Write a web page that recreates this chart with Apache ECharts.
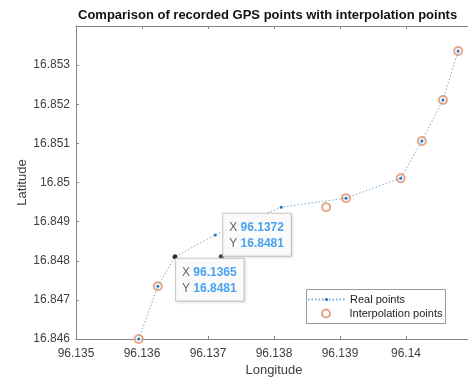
<!DOCTYPE html>
<html>
<head>
<meta charset="utf-8">
<script src="https://cdn.jsdelivr.net/npm/echarts@6/dist/echarts.min.js"></script>
<style>
  html, body { margin: 0; padding: 0; background: #fff; }
  #chart { width: 468px; height: 377px; }
</style>
</head>
<body>
<div id="chart"></div>
<script>
// Recorded GPS track (longitude / latitude)
const realLon = [96.13595, 96.13624, 96.1365, 96.13711, 96.13811, 96.13909, 96.13992, 96.14024, 96.14056, 96.14079];
const realLat = [16.846, 16.84735, 16.8481, 16.84866, 16.84937, 16.84960, 16.85011, 16.85106, 16.85211, 16.85336];

// Interpolated positions
const interpLon = [96.13595, 96.13624, 96.13879, 96.13909, 96.13992, 96.14024, 96.14056, 96.14079];
const interpLat = [16.846, 16.84735, 16.84937, 16.84960, 16.85011, 16.85106, 16.85211, 16.85336];

// Data tips
const tipLon = [96.1365, 96.1372];
const tipLat = [16.8481, 16.8481];

const font = "'Liberation Sans', Arial, Helvetica, sans-serif";
const axisGray = '#858585';
const textGray = '#404040';
const blue = '#1f77c4';
const orange = '#dd8f6a';

const fmt = v => String(+v.toFixed(4));

const chart = echarts.init(document.getElementById('chart'), null, { renderer: 'canvas' });

const tipLabel = (idx) => ({
  show: true,
  position: idx === 0 ? [3.5, 4.5] : [4.5, -40.5],
  formatter: p => '{k|X} {v|' + fmt(p.value[0]) + '}\n{k|Y} {v|' + fmt(p.value[1]) + '}',
  backgroundColor: '#ffffff',
  borderColor: '#c4c4c4',
  borderWidth: 1,
  padding: [6, 7, 4, 6],
  shadowColor: 'rgba(0,0,0,0.12)',
  shadowBlur: 3,
  shadowOffsetX: 1,
  shadowOffsetY: 1,
  rich: {
    k: { fontFamily: font, fontSize: 12, color: textGray, lineHeight: 16 },
    v: { fontFamily: font, fontSize: 12, fontWeight: 'bold', color: '#1a8cf0', lineHeight: 16 }
  }
});

const legendText = { fontFamily: font, fontSize: 11, color: '#222' };

const option = {
  animation: false,
  backgroundColor: '#ffffff',
  title: {
    text: 'Comparison of recorded GPS points with interpolation points',
    left: 78,
    top: 9,
    padding: 0,
    textStyle: { fontFamily: font, fontSize: 13, fontWeight: 'bold', color: '#111' }
  },
  graphic: [{
    type: 'rect',
    left: 306,
    top: 289,
    z: 3,
    shape: { width: 139, height: 34 },
    style: { fill: '#fff', stroke: '#9a9a9a', lineWidth: 1 }
  }],
  legend: [{
    orient: 'vertical',
    left: 307,
    top: 294,
    padding: 0,
    itemWidth: 37,
    itemHeight: 4,
    z: 5,
    textStyle: legendText,
    data: ['Real points']
  }, {
    orient: 'vertical',
    left: 321,
    top: 308,
    padding: 0,
    itemWidth: 37,
    itemHeight: 8,
    z: 5,
    textStyle: legendText,
    data: ['Interpolation points']
  }],
  grid: { left: 76, right: -4, top: 26, bottom: 38, containLabel: false, outerBoundsMode: 'none' },
  xAxis: [{
    type: 'value',
    min: 96.135, max: 96.141, interval: 0.001,
    name: 'Longitude',
    nameLocation: 'middle',
    nameGap: 25,
    nameMoveOverlap: false,
    nameTextStyle: { fontFamily: font, fontSize: 13, color: textGray },
    axisLine: { show: true, lineStyle: { color: axisGray, width: 1 } },
    axisTick: { show: true, inside: true, length: 3, lineStyle: { color: axisGray } },
    axisLabel: { fontFamily: font, fontSize: 12, color: textGray, margin: 9, formatter: fmt, showMaxLabel: false },
    splitLine: { show: false }
  }, {
    type: 'value',
    position: 'top',
    min: 96.135, max: 96.141, interval: 0.001,
    axisLine: { show: true, onZero: false, lineStyle: { color: axisGray, width: 1 } },
    axisTick: { show: true, inside: true, length: 3, lineStyle: { color: axisGray } },
    axisLabel: { show: false },
    splitLine: { show: false }
  }],
  yAxis: [{
    type: 'value',
    min: 16.846, max: 16.854, interval: 0.001,
    name: 'Latitude',
    nameLocation: 'middle',
    nameGap: 47,
    nameMoveOverlap: false,
    nameTextStyle: { fontFamily: font, fontSize: 13, color: textGray },
    axisLine: { show: true, onZero: false, lineStyle: { color: axisGray, width: 1 } },
    axisTick: { show: true, inside: true, length: 3, lineStyle: { color: axisGray } },
    axisLabel: { fontFamily: font, fontSize: 12, color: textGray, margin: 6, formatter: fmt, showMaxLabel: false },
    splitLine: { show: false }
  }],
  series: [
    {
      name: 'Real points',
      type: 'line',
      data: realLon.map((x, i) => [x, realLat[i]]),
      symbol: 'circle',
      symbolSize: 3,
      showSymbol: true,
      clip: false,
      itemStyle: { color: blue },
      lineStyle: { color: '#7aaad2', width: 1, type: [1.5, 2] },
      z: 3
    },
    {
      name: 'Interpolation points',
      type: 'scatter',
      data: interpLon.map((x, i) => [x, interpLat[i]]),
      symbol: 'emptyCircle',
      symbolSize: 8,
      clip: false,
      itemStyle: { color: orange, borderColor: orange, borderWidth: 1.2 },
      z: 2
    },
    {
      name: 'tips',
      type: 'scatter',
      data: tipLon.map((x, i) => ({ value: [x, tipLat[i]], label: tipLabel(i) })),
      symbol: 'circle',
      symbolSize: 5,
      itemStyle: { color: '#111' },
      z: 5
    }
  ]
};

chart.setOption(option);
</script>
</body>
</html>
